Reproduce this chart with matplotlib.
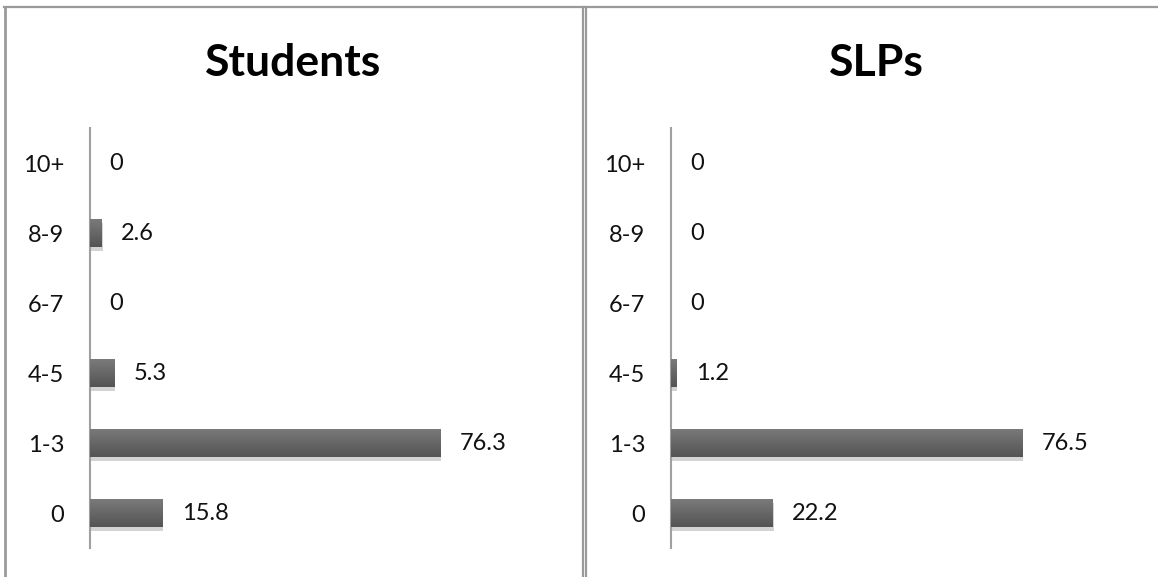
import numpy as np
import matplotlib
matplotlib.use("Agg")
import matplotlib.pyplot as plt
from matplotlib.lines import Line2D
import matplotlib.patheffects as pe

categories = ["0", "1-3", "4-5", "6-7", "8-9", "10+"]
students = [15.8, 76.3, 5.3, 0, 2.6, 0]
slps = [22.2, 76.5, 1.2, 0, 0, 0]
titles = ["Students", "SLPs"]

plt.rcParams['font.family'] = ['Lato', 'DejaVu Sans']

W, H = 1158, 577
fig = plt.figure(figsize=(W / 100, H / 100), dpi=100)

def fx(px):
    return px / W

def fy(py):
    return 1 - py / H

# panel frame lines
line_col = '#9a9a9a'
fig.add_artist(Line2D([fx(4), fx(1158)], [fy(7), fy(7)], color=line_col, lw=1.6))
fig.add_artist(Line2D([fx(5), fx(5)], [fy(7), fy(577)], color=line_col, lw=2.0))
fig.add_artist(Line2D([fx(582.5), fx(582.5)], [fy(7), fy(577)], color=line_col, lw=1.6))
fig.add_artist(Line2D([fx(586), fx(586)], [fy(7), fy(577)], color=line_col, lw=1.6))

grad = np.linspace(0.48, 0.33, 50).reshape(-1, 1)

def panel(left_px, title, values, title_cx):
    ax = fig.add_axes([fx(left_px), fy(548), 459 / W, 420 / H])
    y = np.arange(len(categories))
    bars = ax.barh(y, values, height=0.4, color='#666666', zorder=2,
                   path_effects=[pe.SimplePatchShadow(offset=(0.5, -3), shadow_rgbFace='#c8c8c8', alpha=0.8), pe.Normal()])
    for b in bars:
        if b.get_width() > 0:
            x0, y0 = b.get_x(), b.get_y()
            im = ax.imshow(grad, cmap='gray', vmin=0, vmax=1, aspect='auto',
                           extent=(x0, x0 + b.get_width(), y0, y0 + b.get_height()),
                           zorder=3, origin='upper')
            im.set_clip_path(b)
    for yi, v in zip(y, values):
        ax.text(v + 4.2, yi, f"{v:g}",
                va='center', ha='left', fontsize=17, color='#111111')
    ax.set_xlim(0, 100)
    ax.set_ylim(-0.5, len(categories) - 0.5)
    ax.set_yticks(y)
    ax.set_yticklabels(categories, fontsize=17, color='#111111')
    ax.tick_params(axis='y', length=0, pad=18.5)
    ax.set_xticks([])
    for s in ['top', 'right', 'bottom']:
        ax.spines[s].set_visible(False)
    ax.spines['left'].set_color('#a0a0a0')
    ax.spines['left'].set_linewidth(1.5)
    ax.set_facecolor('none')
    fig.text(fx(title_cx), fy(63), title, ha='center', va='center',
             fontsize=32, fontweight='bold', color='#000000')
    return ax

panel(90, titles[0], students, 293)
panel(671, titles[1], slps, 876)

fig.savefig("out.png", dpi=100)
